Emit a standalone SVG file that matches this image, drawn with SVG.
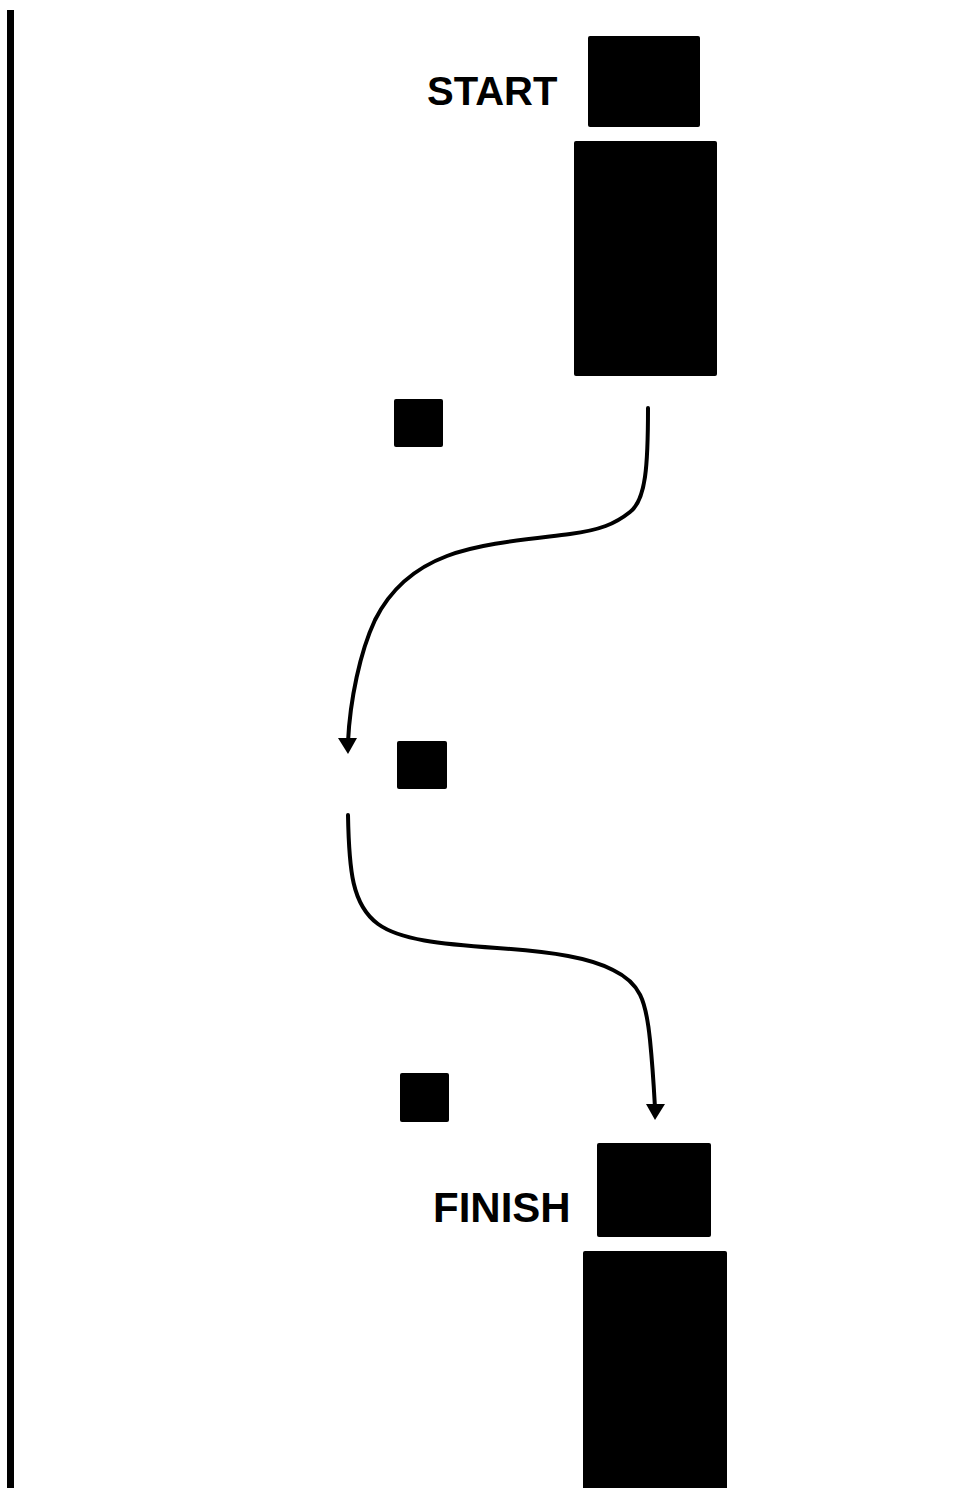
<svg xmlns="http://www.w3.org/2000/svg" width="969" height="1488" viewBox="0 0 969 1488">
<style>
.blk{fill:#000}
.lbl{font-family:"Liberation Sans",Arial,sans-serif;font-weight:bold;fill:#000}
.conn{fill:none;stroke:#000;stroke-width:4;stroke-linecap:round}
</style>
<rect width="969" height="1488" fill="#fff"/>
<g id="border"><rect x="7" y="10" width="7" height="1478" class="blk"/></g>
<g id="start">
<text x="427" y="105" class="lbl" font-size="40">START</text>
<rect x="588" y="36" width="112" height="91" rx="2" class="blk"/>
<rect x="574" y="141" width="143" height="235" rx="2" class="blk"/>
</g>
<g id="sq1"><rect x="394" y="399" width="49" height="48" rx="2" class="blk"/></g>
<g id="sq2"><rect x="397" y="741" width="50" height="48" rx="2" class="blk"/></g>
<g id="sq3"><rect x="400" y="1073" width="49" height="49" rx="2" class="blk"/></g>
<g id="finish">
<text x="433" y="1222" class="lbl" font-size="42">FINISH</text>
<rect x="597" y="1143" width="114" height="94" rx="2" class="blk"/>
<rect x="583" y="1251" width="144" height="245" rx="2" class="blk"/>
</g>
<g id="connectors">
<path class="conn" d="M648,408 C648,465 646,500 630,512 C615,524 600,530 570,534 C530,539 480,543 447,556 C415,568 390,590 375,620 C360,652 350,700 348,742"/>
<polygon points="348,754 338,738 357,738" class="blk"/>
<path class="conn" d="M348,815 C349,870 352,905 378,924 C400,940 440,944 497,948 C555,952 590,958 613,970 C640,983 646,1000 650,1040 C653,1070 654,1090 655,1108"/>
<polygon points="655,1120 646,1104 665,1104" class="blk"/>
</g>
</svg>
